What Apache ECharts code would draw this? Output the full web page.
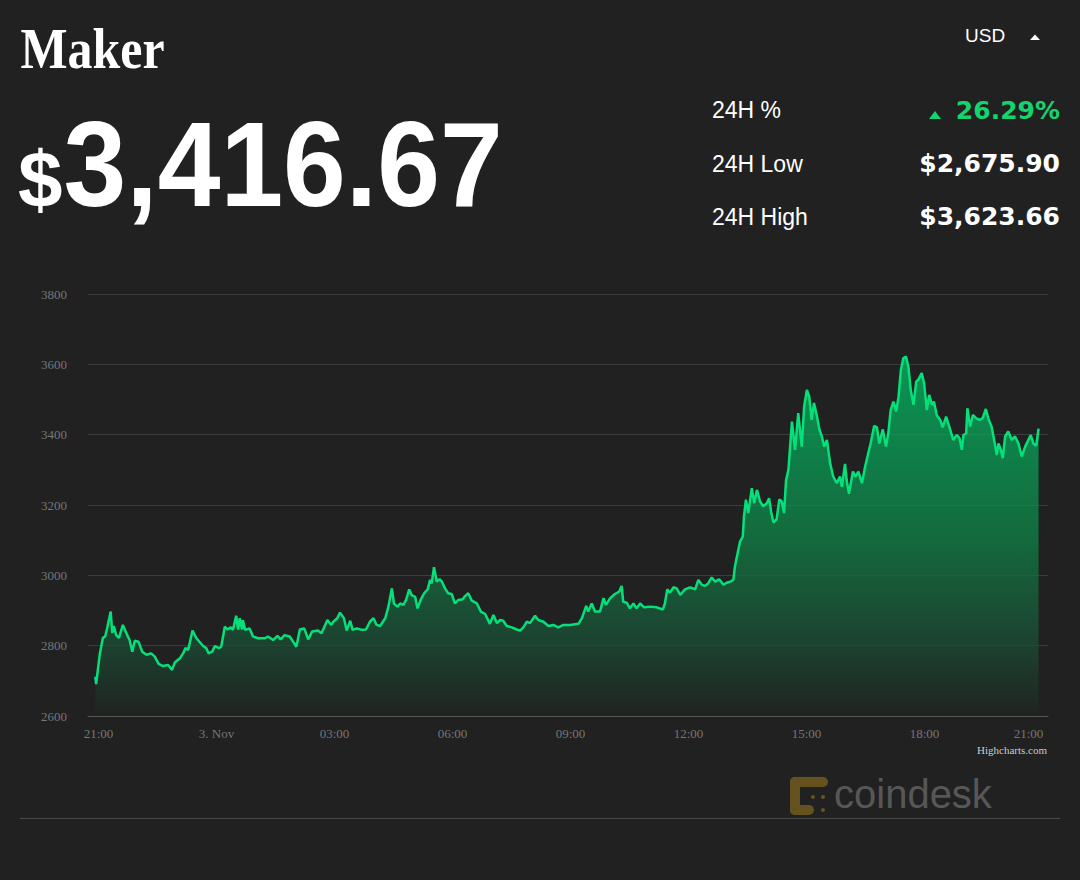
<!DOCTYPE html>
<html>
<head>
<meta charset="utf-8">
<script src="https://cdn.jsdelivr.net/npm/echarts@6/dist/echarts.min.js"></script>
<style>
  html, body { margin: 0; padding: 0; background: #212121; }
  #chart { width: 1080px; height: 880px; }
</style>
</head>
<body>
<div id="chart"></div>
<script>
// Hours after 21:00 (2 Nov)
const times = [
  -0.08,-0.06,0.03,0.11,0.17,0.22,0.31,0.35,0.39,0.45,0.52,0.62,0.73,0.79,0.86,0.92,1.02,1.11,1.22,1.34,
  1.43,1.53,1.64,1.77,1.87,1.94,2.07,2.15,2.21,2.28,2.39,2.49,2.66,2.74,2.80,2.89,2.96,3.06,3.12,3.21,
  3.28,3.36,3.42,3.50,3.55,3.59,3.65,3.67,3.73,3.84,3.93,4.06,4.23,4.31,4.44,4.55,4.63,4.73,4.86,4.95,
  5.03,5.12,5.23,5.33,5.43,5.58,5.67,5.82,5.92,5.97,6.07,6.14,6.24,6.31,6.40,6.46,6.57,6.69,6.80,6.90,
  6.99,7.07,7.16,7.29,7.37,7.46,7.51,7.60,7.67,7.75,7.82,7.90,7.96,8.05,8.11,8.19,8.28,8.37,8.43,8.47,
  8.53,8.60,8.67,8.73,8.81,8.89,8.98,9.06,9.15,9.26,9.32,9.40,9.49,9.62,9.72,9.83,9.95,10.04,10.13,10.21,
  10.29,10.38,10.51,10.63,10.72,10.80,10.89,10.97,11.10,11.18,11.31,11.44,11.56,11.69,11.82,11.99,12.20,12.29,12.40,12.45,
  12.54,12.62,12.75,12.84,12.90,13.01,13.13,13.24,13.30,13.34,13.43,13.51,13.60,13.68,13.77,13.87,14.02,14.19,14.35,14.40,
  14.46,14.53,14.62,14.70,14.79,14.91,15.04,15.17,15.25,15.34,15.42,15.50,15.59,15.68,15.78,15.89,15.97,16.06,16.14,16.18,
  16.24,16.31,16.38,16.41,16.46,16.52,16.61,16.67,16.74,16.82,16.90,16.99,17.05,17.10,17.16,17.24,17.31,17.37,17.43,17.48,
  17.54,17.63,17.71,17.79,17.88,17.94,18.01,18.07,18.13,18.19,18.26,18.33,18.39,18.45,18.52,18.60,18.68,18.77,18.85,18.90,
  18.98,19.02,19.08,19.18,19.24,19.32,19.41,19.49,19.57,19.63,19.72,19.79,19.85,19.94,20.02,20.08,20.14,20.21,20.28,20.34,
  20.40,20.46,20.53,20.59,20.65,20.72,20.79,20.84,20.93,20.99,21.06,21.12,21.19,21.24,21.31,21.40,21.46,21.55,21.63,21.73,
  21.82,21.89,21.95,21.99,22.06,22.09,22.16,22.23,22.31,22.40,22.48,22.56,22.62,22.71,22.77,22.84,22.88,22.94,22.99,23.05,
  23.13,23.22,23.30,23.39,23.47,23.56,23.64,23.70,23.77,23.84,23.90
];
const prices = [
  2712,2691,2774,2822,2826,2850,2897,2836,2856,2830,2822,2859,2830,2816,2783,2814,2811,2783,2774,2778,
  2769,2748,2742,2745,2731,2752,2764,2778,2793,2788,2843,2821,2799,2793,2778,2783,2799,2793,2797,2854,
  2846,2852,2845,2885,2846,2878,2846,2873,2845,2849,2826,2821,2821,2826,2816,2828,2818,2830,2826,2811,
  2797,2846,2849,2818,2840,2843,2835,2873,2859,2868,2878,2894,2878,2843,2871,2845,2849,2845,2846,2868,
  2878,2859,2856,2878,2911,2963,2920,2911,2920,2916,2930,2960,2944,2939,2906,2930,2949,2960,2987,2977,
  3023,2982,2989,2982,2963,2949,2947,2920,2930,2932,2941,2949,2928,2920,2897,2890,2862,2887,2864,2873,
  2871,2856,2852,2846,2843,2852,2868,2864,2885,2873,2868,2856,2859,2852,2859,2859,2862,2878,2913,2897,
  2920,2897,2897,2935,2916,2935,2947,2954,2970,2925,2922,2906,2920,2906,2920,2909,2911,2909,2903,2920,
  2960,2951,2966,2963,2944,2960,2966,2960,2987,2973,2970,2977,2994,2982,2989,2973,2979,2982,2987,3025,
  3058,3096,3110,3167,3215,3177,3248,3205,3243,3210,3196,3205,3219,3181,3150,3160,3216,3210,3177,3270,
  3300,3437,3357,3461,3366,3480,3527,3508,3442,3490,3456,3414,3395,3366,3385,3319,3281,3262,3281,3252,
  3317,3271,3232,3295,3281,3295,3262,3309,3347,3375,3425,3421,3375,3415,3366,3404,3470,3494,3466,3508,
  3584,3617,3622,3594,3527,3485,3551,3556,3575,3546,3470,3513,3485,3494,3456,3442,3421,3451,3423,3385,
  3399,3390,3357,3399,3404,3475,3423,3456,3447,3442,3447,3473,3447,3421,3385,3342,3375,3357,3333,3395,
  3409,3385,3395,3375,3338,3366,3385,3399,3375,3368,3417
];
const xTickHours = [0, 3, 6, 9, 12, 15, 18, 21, 24];
const xTickLabels = ['21:00', '3. Nov', '03:00', '06:00', '09:00', '12:00', '15:00', '18:00', '21:00'];
const yTicks = [2600, 2800, 3000, 3200, 3400, 3600, 3800];

const coinName = 'Maker';
const lastPrice = '3,416.67';
const statLabels = ['24H %', '24H Low', '24H High'];
const statValues = ['26.29%', '$2,675.90', '$3,623.66'];

const chart = echarts.init(document.getElementById('chart'), null, { renderer: 'svg' });

const seriesData = times.map((t, i) => [t, prices[i]]);
const green = '#14d46e';
const statBaselines = [110, 163.5, 216.5];
const logoGold = '#66521f';

const graphics = [
  { type: 'text', x: 18, y: 49, scaleX: 0.86, originX: 18, originY: 49,
    style: { text: coinName, font: 'bold 58px "Liberation Serif"', fill: '#ffffff', verticalAlign: 'middle', align: 'left' } },
  { type: 'text', x: 18, y: 179,
    style: { text: '$', font: 'bold 80px "Liberation Sans"', fill: '#ffffff', verticalAlign: 'middle', align: 'left' } },
  { type: 'text', x: 60, y: 165, scaleX: 0.94, originX: 60, originY: 165,
    style: { text: lastPrice, font: 'bold 120px "Liberation Sans"', fill: '#ffffff', verticalAlign: 'middle', align: 'left' } },
  { type: 'text', x: 965, y: 35,
    style: { text: 'USD', font: '19px "Liberation Sans"', fill: '#ffffff', verticalAlign: 'middle', align: 'left' } },
  { type: 'polygon', shape: { points: [[1030, 40], [1040, 40], [1035, 34.5]] }, style: { fill: '#ffffff' } },
  { type: 'polygon', shape: { points: [[929, 119], [941, 119], [935, 111]] }, style: { fill: green } },
  { type: 'line', shape: { x1: 20, y1: 818.5, x2: 1060, y2: 818.5 }, style: { stroke: '#4a4a4a', lineWidth: 1 } },
  { type: 'text', x: 1047, y: 750,
    style: { text: 'Highcharts.com', font: '11px "Liberation Serif"', fill: '#cccccc', verticalAlign: 'middle', align: 'right' } },
  { type: 'text', x: 834, y: 794,
    style: { text: 'coindesk', font: '40px "Liberation Sans"', fill: '#575757', verticalAlign: 'middle', align: 'left' } },
  // coindesk mark
  { type: 'rect', shape: { x: 790, y: 777, width: 38, height: 10, r: 5 }, style: { fill: logoGold } },
  { type: 'rect', shape: { x: 790, y: 777, width: 10, height: 38, r: 5 }, style: { fill: logoGold } },
  { type: 'rect', shape: { x: 790, y: 805, width: 24, height: 10, r: 5 }, style: { fill: logoGold } },
  { type: 'circle', shape: { cx: 813, cy: 797, r: 2 }, style: { fill: logoGold } },
  { type: 'circle', shape: { cx: 823, cy: 797, r: 2 }, style: { fill: logoGold } },
  { type: 'circle', shape: { cx: 823, cy: 810, r: 2 }, style: { fill: logoGold } }
];

statLabels.forEach((lbl, i) => {
  graphics.push({ type: 'text', x: 712, y: statBaselines[i],
    style: { text: lbl, font: '23px "Liberation Sans"', fill: '#ffffff', verticalAlign: 'middle', align: 'left' } });
  graphics.push({ type: 'text', x: 1060, y: statBaselines[i],
    style: { text: statValues[i], font: 'bold 25px "DejaVu Sans"', fill: i === 0 ? green : '#ffffff', verticalAlign: 'middle', align: 'right' } });
});

chart.setOption({
  backgroundColor: '#212121',
  animation: false,
  grid: { left: 88, right: 32, top: 294, bottom: 164, containLabel: false },
  xAxis: {
    type: 'value',
    min: -0.267,
    max: 24.14,
    axisLine: { show: true, lineStyle: { color: '#555555', width: 1 } },
    axisTick: { show: false },
    splitLine: { show: false },
    axisLabel: {
      customValues: xTickHours,
      color: '#777777',
      fontFamily: 'Liberation Serif',
      fontSize: 13,
      margin: 11,
      formatter: function (v) {
        const idx = xTickHours.indexOf(Math.round(v));
        const s = idx >= 0 ? xTickLabels[idx] : '';
        if (idx === xTickHours.length - 1) return '{last|' + s + '}';
        return s;
      },
      rich: {
        last: { color: '#777777', fontFamily: 'Liberation Serif', fontSize: 13, padding: [0, 28, 0, 0] }
      }
    }
  },
  yAxis: {
    type: 'value',
    min: yTicks[0],
    max: yTicks[yTicks.length - 1],
    interval: 200,
    axisLine: { show: false },
    axisTick: { show: false },
    splitLine: { lineStyle: { color: '#3c3c3c', width: 1 } },
    axisLabel: {
      color: '#777777', fontFamily: 'Liberation Serif', fontSize: 13, margin: 21,
      formatter: function (v) { return String(v); }
    }
  },
  series: [{
    type: 'line',
    data: seriesData,
    showSymbol: false,
    smooth: false,
    lineStyle: { color: '#05e07a', width: 2.5 },
    areaStyle: {
      color: new echarts.graphic.LinearGradient(0, 0, 0, 1, [
        { offset: 0, color: '#00c86a' },
        { offset: 0.5, color: '#0e8a4a' },
        { offset: 0.8, color: '#1a5036' },
        { offset: 1, color: '#202421' }
      ])
    }
  }],
  graphic: graphics
});
</script>
</body>
</html>
